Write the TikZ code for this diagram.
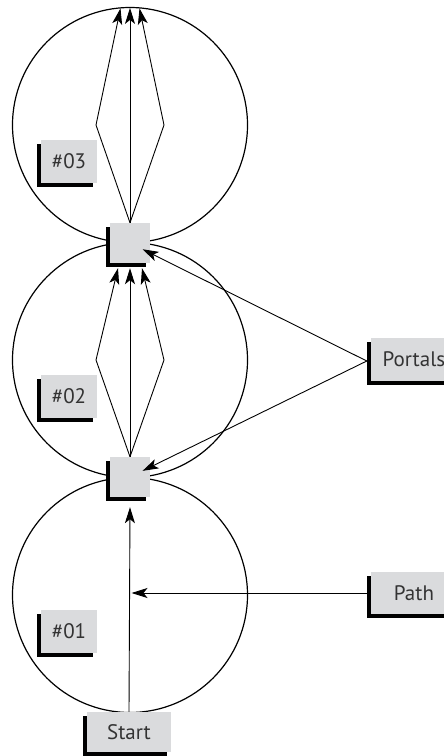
\documentclass[tikz,border=0pt]{standalone}
\usepackage{fontspec}
\setmainfont{PT Sans}
\usetikzlibrary{arrows.meta,shadows,calc}
\definecolor{boxgray}{RGB}{218,219,221}
\definecolor{txtgray}{RGB}{51,51,51}
\tikzset{
    zone/.style={draw, circle, line width=1.2pt, minimum size=235pt, inner sep=0pt},
    shadowbox/.style={fill=boxgray, text=txtgray, inner sep=0pt,
        font=\fontsize{21}{23}\selectfont,
        drop shadow={shadow xshift=-4pt, shadow yshift=-4pt, fill=black, opacity=1}},
    portal/.style={shadowbox, minimum width=40pt, minimum height=40pt},
    tag/.style={shadowbox, minimum width=56pt, minimum height=43pt},
    callout/.style={shadowbox, minimum width=86pt, minimum height=43pt},
    link/.style={line width=0.9pt, -{Stealth[length=16pt, width=10pt, inset=4pt]}}
}
\begin{document}
\begin{tikzpicture}[x=1pt, y=-1pt]
    \useasboundingbox (0,0) rectangle (444,756);
    \clip (0,0) rectangle (444,756);
    % Zones
    \node[zone] (c3) at (130,125) {};
    \node[zone] (c2) at (130,360) {};
    \node[zone] (c1) at (130,595) {};
    % Portals between zones
    \node[portal] (p2) at (130,243) {};
    \node[portal] (p1) at (130,477) {};
    % Zone tags
    \node[tag] (t3) at ($(c3.center)+(-61,36.5)$) {\#03};
    \node[tag] (t2) at ($(c2.center)+(-61,36)$) {\#02};
    \node[tag] (t1) at ($(c1.center)+(-61,36)$) {\#01};
    % Callouts
    \node[shadowbox, minimum width=84pt, minimum height=40pt] (start) at (129,732) {Start};
    \node[callout] (portals) at (414,359) {Portals};
    \node[callout, minimum height=42pt] (path) at (414,593) {Path};
    % Paths through zone 3
    \draw[link] (p2.north) -- ($(c3.center)+(-34,0)$) -- ($(c3.north)+(-9.5,1.5)$);
    \draw[link] (p2.north) -- ($(c3.north)+(0,1)$);
    \draw[link] (p2.north) -- ($(c3.center)+(34,0)$) -- ($(c3.north)+(9.5,1.5)$);
    % Paths through zone 2
    \draw[link] (p1.north) -- ($(c2.center)+(-34,0)$) -- ($(p2.south)+(-12,5)$);
    \draw[link] (p1.north) -- ($(p2.south)+(0,5)$);
    \draw[link] (p1.north) -- ($(c2.center)+(34,0)$) -- ($(p2.south)+(12,5)$);
    % Path through zone 1
    \draw[link] (start.north) -- ($(p1.south)+(0,10)$);
    \draw[link] (path.west) -- ([xshift=1.5pt]path.west -| c1.center);
    % Portal callout
    \draw[link, shorten >=14pt] ([shift={(-4pt,-2pt)}]portals.west) -- (p2.center);
    \draw[link, shorten >=14pt] ([shift={(-4pt,-2pt)}]portals.west) -- (p1.center);
\end{tikzpicture}
\end{document}
